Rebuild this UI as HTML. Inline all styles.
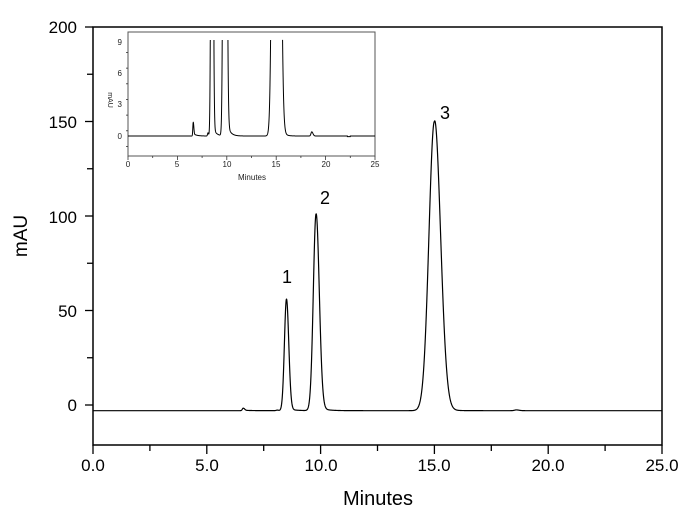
<!DOCTYPE html>
<html><head><meta charset="utf-8"><style>
html,body{margin:0;padding:0;background:#fff;}
svg{display:block;font-family:"Liberation Sans",Arial,sans-serif;}
</style></head><body>
<svg id="s" width="690" height="524" viewBox="0 0 690 524" xmlns="http://www.w3.org/2000/svg">
<rect x="0" y="0" width="690" height="524" fill="#fff"/>
<rect x="93" y="27" width="569" height="418" fill="none" stroke="#000" stroke-width="1.5"/>
<g id="ticks" stroke="#000" stroke-width="1.3"></g>
<g font-size="17" text-anchor="end">
<text x="77" y="33">200</text><text x="77" y="128">150</text><text x="77" y="223">100</text><text x="77" y="317">50</text><text x="77" y="411">0</text>
</g>
<g font-size="17" text-anchor="middle">
<text x="93" y="471">0.0</text><text x="207" y="471">5.0</text><text x="321" y="471">10.0</text><text x="434" y="471">15.0</text><text x="548" y="471">20.0</text><text x="662" y="471">25.0</text>
</g>
<text x="378" y="505" font-size="20" text-anchor="middle">Minutes</text>
<text transform="translate(27,236) rotate(-90)" font-size="19" text-anchor="middle">mAU</text>
<path id="main" fill="none" stroke="#000" stroke-width="1.2"/>
<g font-size="18" text-anchor="middle"><text x="287" y="283">1</text><text x="325" y="204">2</text><text x="445" y="119">3</text></g>
<rect x="128" y="32" width="247" height="124" fill="#fff" stroke="#555" stroke-width="1"/>
<g id="iticks" stroke="#333" stroke-width="0.8"></g>
<g font-size="8" text-anchor="end" fill="#222">
<text x="122" y="45">9</text><text x="122" y="76">6</text><text x="122" y="107">3</text><text x="122" y="139">0</text>
</g>
<g font-size="8" text-anchor="middle" fill="#222">
<text x="128" y="167">0</text><text x="177" y="167">5</text><text x="227" y="167">10</text><text x="276" y="167">15</text><text x="326" y="167">20</text><text x="375" y="167">25</text>
</g>
<text x="252" y="180" font-size="8" text-anchor="middle" fill="#222">Minutes</text>
<text transform="translate(108,100) rotate(90)" font-size="7" text-anchor="middle" fill="#222">mAU</text>
<path id="ins" fill="none" stroke="#000" stroke-width="1"/>
</svg>
<script>
function pk(t,c,h,sl,sr,tail){var d=t-c;var g=d<0?Math.exp(-d*d/(2*sl*sl)):Math.exp(-d*d/(2*sr*sr));
var e=0;if(d>0&&tail)e=tail*h*Math.exp(-d/0.3)*(1-Math.exp(-d/0.08));return h*g+e;}
function sig(t){return pk(t,6.6,1.3,0.04,0.06,0.2)+pk(t,8.5,59,0.09,0.1,0.02)+pk(t,9.8,104,0.12,0.14,0.025)
+pk(t,15.0,153,0.24,0.27,0.022)+pk(t,18.6,0.4,0.08,0.12,0)+pk(t,8.1,0.3,0.05,0.05,0);}
var d1="",d2="",up=true;
for(var i=0;i<=5000;i++){var t=i*25/5000;var v=sig(t);
var x=93+t*22.76,y=405-(v-3)*1.89;d1+=(i?"L":"M")+x.toFixed(2)+" "+y.toFixed(2);
var xi=128+t*9.88;
if(v>9.3){if(!up){d2+="L"+xi.toFixed(2)+" 40";up=true;}continue;}
var yi=136-v*10.44;if(t>22.2&&t<22.5)yi+=0.6;
if(up){if(i)d2+="M"+xi.toFixed(2)+" 40L"+xi.toFixed(2)+" "+yi.toFixed(2);else d2+="M"+xi.toFixed(2)+" "+yi.toFixed(2);up=false;}
else d2+="L"+xi.toFixed(2)+" "+yi.toFixed(2);}
document.getElementById("main").setAttribute("d",d1);
document.getElementById("ins").setAttribute("d",d2);
var tk="";
for(var v=0;v<=200;v+=25){var y=405-v*1.89;tk+='<line x1="'+(v%50?87:85)+'" y1="'+y+'" x2="93" y2="'+y+'"/>';}
for(var m=0;m<=25;m+=2.5){var x=93+m*22.76;tk+='<line x1="'+x+'" y1="445" x2="'+x+'" y2="'+(m%5?451:454)+'"/>';}
document.getElementById("ticks").innerHTML=tk;
var it="";
for(var v=-4;v<=9;v+=1.5){var y=136-v*10.44;if(y<32||y>156)continue;it+='<line x1="'+(v%3?126:124)+'" y1="'+y+'" x2="128" y2="'+y+'"/>';}
for(var m=0;m<=25;m+=2.5){var x=128+m*9.88;it+='<line x1="'+x+'" y1="156" x2="'+x+'" y2="'+(m%5?158:160)+'"/>';}
document.getElementById("iticks").innerHTML=it;
</script>
</body></html>
